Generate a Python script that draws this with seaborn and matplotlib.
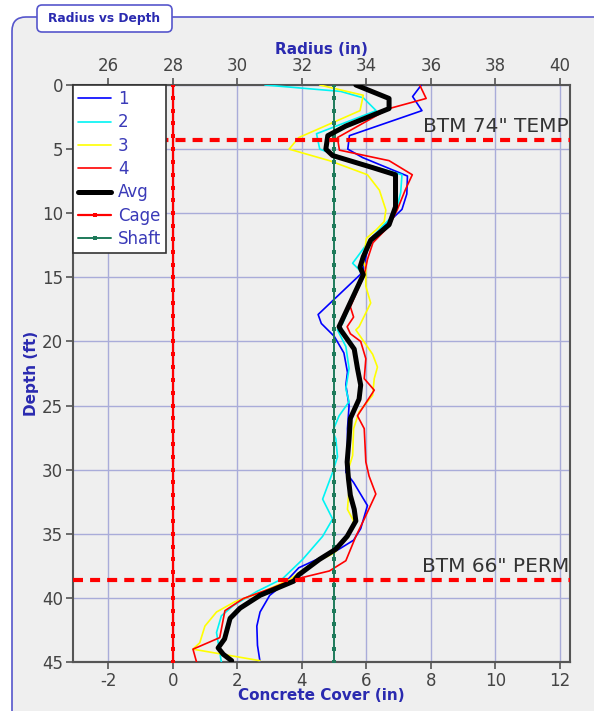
import numpy as np
import pandas as pd
import seaborn as sns
import matplotlib.pyplot as plt
from matplotlib.patches import FancyBboxPatch

# probe traces: depth (ft) and radius (in)
depth_1 = [0, 0.9, 2.0, 3.95, 5.0, 5.66, 7.1, 8.5, 9.7, 10.9, 11.8, 12.6, 14.4, 14.8, 17.9, 18.6, 19.6,
           20.9, 22.4, 23.4, 25.0, 26.8, 28.6, 30.2, 31.0, 32.8, 34.6, 35.5, 36.2, 37.65, 39.0, 39.8,
           41.1, 42.2, 43.7, 45.0]
radius_1 = [35.7, 35.43, 35.72, 33.47, 33.42, 33.88, 35.27, 35.25, 35.1, 34.6, 34.2, 34.05, 33.9, 33.8,
            32.5, 32.6, 33.0, 33.3, 33.41, 33.36, 33.46, 33.41, 33.41, 33.36, 33.6, 34.03, 33.82, 33.6,
            33.15, 31.9, 31.4, 31.0, 30.7, 30.6, 30.62, 30.7]

depth_2 = [0, 0.5, 1.0, 2.0, 3.8, 5.0, 5.7, 7.0, 8.4, 10.0, 11.0, 12.1, 13.9, 14.4, 14.8, 18.6, 19.1,
           20.4, 22.1, 23.7, 24.7, 25.8, 27.0, 27.6, 29.0, 30.2, 32.3, 33.85, 35.2, 37.0, 38.5, 39.5,
           40.6, 41.4, 42.7, 45.0]
radius_2 = [30.85, 33.2, 33.9, 34.3, 32.45, 32.55, 33.3, 35.1, 35.06, 34.9, 34.5, 34.1, 33.57, 33.77,
            33.88, 33.26, 33.1, 33.36, 33.46, 33.36, 33.46, 33.15, 32.95, 33.05, 33.1, 32.95, 32.64,
            32.95, 32.64, 32.02, 31.4, 30.6, 29.87, 29.5, 29.35, 29.5]

depth_3 = [0, 0.8, 2.0, 4.1, 5.0, 5.9, 7.0, 8.2, 9.75, 10.65, 11.3, 11.95, 13.65, 14.4, 15.7, 17.0,
           18.85, 19.1, 21.0, 22.0, 22.9, 24.2, 25.5, 26.8, 28.9, 30.2, 31.5, 33.1, 34.0, 35.2, 36.5,
           37.5, 38.6, 39.5, 40.3, 41.1, 42.2, 43.5, 44.0, 44.9]
radius_3 = [32.55, 33.9, 33.8, 31.9, 31.6, 32.85, 34.03, 34.4, 34.6, 34.55, 34.3, 34.0, 33.9, 33.98,
            33.98, 34.13, 33.77, 33.67, 34.19, 34.34, 34.24, 34.19, 33.77, 33.6, 33.57, 33.41, 33.46,
            33.41, 33.6, 33.45, 33.0, 32.2, 31.6, 30.8, 29.92, 29.35, 28.99, 28.83, 28.62, 30.7]

depth_4 = [0, 1.05, 1.84, 4.1, 5.08, 5.9, 7.0, 8.2, 9.75, 11.0, 12.3, 13.6, 14.8, 17.3, 18.1, 18.85,
           19.4, 20.0, 21.35, 22.9, 23.8, 25.8, 26.8, 29.4, 30.5, 31.9, 33.85, 35.2, 37.1, 37.9, 38.6,
           39.3, 40.05, 41.0, 43.1, 44.0, 45.0]
radius_4 = [35.65, 35.85, 34.7, 33.1, 33.16, 34.7, 35.42, 35.2, 34.95, 34.7, 34.2, 34.03, 33.93, 33.5,
            33.6, 33.4, 33.5, 33.82, 33.98, 33.93, 34.24, 33.72, 33.93, 33.98, 34.08, 34.29, 33.93,
            33.67, 33.36, 32.85, 31.7, 31.0, 30.18, 29.61, 29.45, 28.62, 28.73]

depth_avg = [0, 1.05, 1.84, 3.2, 3.95, 5.0, 5.5, 6.45, 7.0, 9.5, 10.9, 12.1, 13.4, 14.2, 14.8, 18.85,
             19.1, 20.6, 22.1, 23.4, 24.5, 26.0, 27.6, 29.4, 30.7, 32.0, 33.1, 34.0, 35.2, 36.2, 37.0,
             38.2, 38.7, 39.8, 40.8, 41.6, 43.2, 43.9, 44.4, 44.9]
radius_avg = [33.67, 34.7, 34.7, 33.36, 32.8, 32.74, 32.95, 34.2, 34.9, 34.9, 34.7, 34.13, 33.9, 33.8,
              33.9, 33.15, 33.2, 33.62, 33.72, 33.82, 33.77, 33.5, 33.46, 33.4, 33.44, 33.5, 33.62,
              33.67, 33.4, 33.05, 32.54, 31.9, 31.74, 30.7, 30.08, 29.77, 29.6, 29.4, 29.56, 29.82]

cage_radius = 28.0
shaft_radius = 33.0
mark_depths = list(range(0, 46))
temp_depth = 4.3
perm_depth = 38.6
temp_label = 'BTM 74" TEMP'
perm_label = 'BTM 66" PERM'

radius_ticks = [26, 28, 30, 32, 34, 36, 38, 40]
cover_ticks = [-2, 0, 2, 4, 6, 8, 10, 12]
depth_ticks = [0, 5, 10, 15, 20, 25, 30, 35, 40, 45]

sns.set_theme(style="white")
plt.rcParams['font.family'] = ['DejaVu Sans']
plt.rcParams['axes.unicode_minus'] = False

title_blue = "#2a2ab0"
tick_col = "#444444"
grid_col = "#a9acd9"

fig = plt.figure(figsize=(5.94, 7.11), dpi=100)
fig.patch.set_facecolor("white")
panel = FancyBboxPatch((0.12, -0.3), 6.2, 7.24, boxstyle="round,pad=0,rounding_size=0.14",
                       transform=fig.dpi_scale_trans, facecolor="#efefef", edgecolor="#5656cc",
                       linewidth=1.2, zorder=-2)
fig.patches.append(panel)
tab = FancyBboxPatch((0.37, 6.79), 1.35, 0.27, boxstyle="round,pad=0,rounding_size=0.05",
                     transform=fig.dpi_scale_trans, facecolor="white", edgecolor="#5656cc",
                     linewidth=1.2, zorder=-1)
fig.patches.append(tab)
fig.text(1.045 / 5.94, 6.925 / 7.11, "Radius vs Depth", ha="center", va="center",
         fontsize=8.8, fontweight="bold", color=title_blue)

ax = fig.add_axes([73 / 594, 1 - 662 / 711, 497 / 594, 577 / 711])
ax.set_facecolor("#efefef")

series = [("1", depth_1, radius_1, "#0000ff", 1.2),
          ("2", depth_2, radius_2, "#00f4f4", 1.2),
          ("3", depth_3, radius_3, "#ffff00", 1.2),
          ("4", depth_4, radius_4, "#ff0000", 1.2),
          ("Avg", depth_avg, radius_avg, "#000000", 3.6)]

for name, d, r, col, lw in series:
    df = pd.DataFrame({"radius": r, "depth": d})
    sns.lineplot(data=df, x="radius", y="depth", sort=False, estimator=None, color=col,
                 linewidth=lw, label=name, ax=ax, zorder=4 if name == "Avg" else 3)

cage_df = pd.DataFrame({"radius": [cage_radius] * len(mark_depths), "depth": mark_depths})
sns.lineplot(data=cage_df, x="radius", y="depth", sort=False, estimator=None, color="#ff0000",
             linewidth=1.6, marker="s", markersize=3.4, markeredgewidth=0, label="Cage", ax=ax, zorder=3)
shaft_df = pd.DataFrame({"radius": [shaft_radius] * len(mark_depths), "depth": mark_depths})
sns.lineplot(data=shaft_df, x="radius", y="depth", sort=False, estimator=None, color="#1e7a5a",
             linewidth=1.4, marker="s", markersize=3.4, markeredgewidth=0, label="Shaft", ax=ax, zorder=3)

for dd, txt in [(temp_depth, temp_label), (perm_depth, perm_label)]:
    ax.axhline(dd, color="#ff0000", linewidth=3, dashes=(2.4, 1.7), zorder=5)
    ax.text(40.28, dd - 0.3, txt, ha="right", va="bottom", fontsize=14.5, color="#333333", zorder=6)

ax.set_xlim(24.9, 40.31)
ax.set_ylim(45, 0)
ax.set_xticks(radius_ticks)
ax.set_yticks(depth_ticks)
ax.grid(True, color=grid_col, linewidth=1)
ax.set_axisbelow(True)
ax.xaxis.tick_top()
ax.xaxis.set_label_position("top")
ax.tick_params(axis="both", direction="out", length=5, width=1.2, color="#555555",
               labelcolor=tick_col, labelsize=12, pad=2)
ax.tick_params(axis="x", top=True, bottom=False)
ax.tick_params(axis="y", left=True)
for s in ax.spines.values():
    s.set_color("#555555")
    s.set_linewidth(1.5)

ax.set_xlabel("Radius (in)", fontsize=11, fontweight="bold", color=title_blue, labelpad=2)
ax.set_ylabel("Depth (ft)", fontsize=11, fontweight="bold", color=title_blue, labelpad=2)

sec = ax.secondary_xaxis("bottom", functions=(lambda r: r - cage_radius, lambda c: c + cage_radius))
sec.set_xticks(cover_ticks)
sec.tick_params(direction="out", length=5, width=1.2, color="#555555", labelcolor=tick_col,
                labelsize=12, pad=2)
sec.spines["bottom"].set_color("#555555")
sec.spines["bottom"].set_linewidth(1.5)
sec.set_xlabel("Concrete Cover (in)", fontsize=11, fontweight="bold", color=title_blue, labelpad=-1)

leg = ax.legend(loc="upper left", bbox_to_anchor=(0, 1), borderaxespad=0, frameon=True,
                fancybox=False, framealpha=1, edgecolor="#333333", facecolor="white",
                fontsize=12, handlelength=2.0, labelspacing=0.32, borderpad=0.3,
                handletextpad=0.4, numpoints=1)
leg.get_frame().set_linewidth(1.2)
for t in leg.get_texts():
    t.set_color("#3a3ab8")
leg.set_zorder(10)

fig.savefig("out.png", dpi=100, facecolor=fig.get_facecolor())
